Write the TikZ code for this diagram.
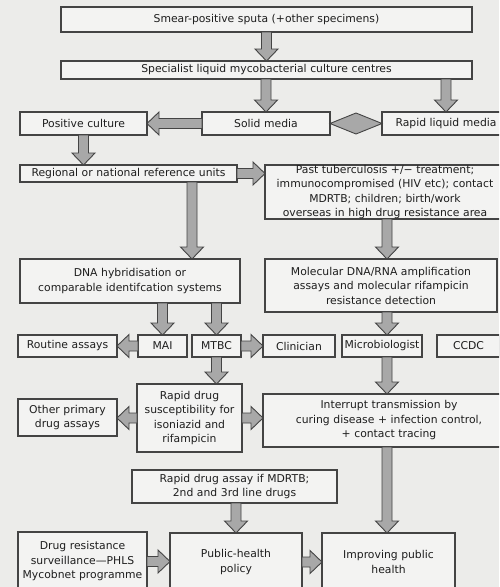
\documentclass[tikz,border=0pt]{standalone}
\usepackage{fontspec}
\setmainfont{DejaVu Sans}
\usetikzlibrary{calc}
\definecolor{bgc}{HTML}{ECECEA}
\definecolor{boxfill}{HTML}{F3F3F2}
\definecolor{edge}{HTML}{444444}
\definecolor{arrfill}{HTML}{A8A8A8}
\definecolor{txt}{HTML}{1E1E1E}
\tikzset{
  box/.style={draw=edge, fill=boxfill, line width=1.2pt, inner sep=0pt, outer sep=0pt,
    align=center, text=txt, font=\fontsize{10.8}{14.5}\selectfont},
  fatarr/.style={draw=edge, fill=arrfill, line width=0.9pt, line join=miter},
}
\newcommand\bx[6]{%
  \pgfmathsetmacro\bw{#4-#2}\pgfmathsetmacro\bh{#5-#3}%
  \node[box,anchor=north west,minimum width=\bw pt,minimum height=\bh pt,text width=\bw pt] (#1) at (#2,#3) {#6};}
\newcommand\fat[2]{%
  \path let \p1=(#1), \p2=(#2) in \pgfextra{%
    \pgfmathsetmacro\fatang{atan2(\y2-\y1,\x2-\x1)}%
    \pgfmathsetmacro\fatlen{veclen(\x2-\x1,\y2-\y1)}%
    \xdef\fatA{\fatang}\xdef\fatL{\fatlen}\xdef\fatX{\x1}\xdef\fatY{\y1}};
  \begin{scope}[shift={(\fatX,\fatY)},rotate=\fatA]
    \filldraw[fatarr] (0pt,-5pt) -- ({\fatL pt-12pt},-5pt) -- ({\fatL pt-12pt},-11.5pt)
      -- (\fatL pt,0pt) -- ({\fatL pt-12pt},11.5pt) -- ({\fatL pt-12pt},5pt) -- (0pt,5pt) -- cycle;
  \end{scope}}
\begin{document}
\begin{tikzpicture}[x=1pt,y=-1pt]
\useasboundingbox (0,0) rectangle (499,587);
\fill[bgc] (0,0) rectangle (499,587);
\clip (0,0) rectangle (499,587);
% boxes
\bx{smear}{61}{7}{472}{32}{Smear-positive sputa (+other specimens)}
\bx{spec}{61}{61}{472}{79}{Specialist liquid mycobacterial culture centres}
\bx{pos}{20}{112}{147}{135}{Positive culture}
\bx{solid}{202}{112}{330}{135}{Solid media}
\bx{rapidliq}{382}{112}{510}{135}{Rapid liquid media}
\bx{regional}{20}{165}{237}{182}{Regional or national reference units}
\bx{past}{265}{165}{505}{219}{Past tuberculosis +/− treatment;\\immunocompromised (HIV etc); contact\\MDRTB; children; birth/work\\overseas in high drug resistance area}
\bx{dna}{20}{259}{240}{303}{DNA hybridisation or\\comparable identifcation systems}
\bx{molec}{265}{259}{497}{312}{Molecular DNA/RNA amplification\\assays and molecular rifampicin\\resistance detection}
\bx{routine}{18}{335}{117}{357}{Routine assays}
\bx{mai}{138}{335}{187}{357}{MAI}
\bx{mtbc}{192}{335}{241}{357}{MTBC}
\bx{clin}{263}{335}{335}{357}{Clinician}
\bx{micro}{342}{335}{422}{357}{Microbiologist}
\bx{ccdc}{437}{335}{500}{357}{CCDC}
\bx{other}{18}{399}{117}{436}{Other primary\\drug assays}
\bx{rapiddrug}{137}{384}{242}{452}{Rapid drug\\susceptibility for\\isoniazid and\\rifampicin}
\bx{interrupt}{263}{394}{515}{447}{Interrupt transmission by\\curing disease + infection control,\\+ contact tracing}
\bx{rapidassay}{132}{470}{337}{503}{Rapid drug assay if MDRTB;\\2nd and 3rd line drugs}
\bx{drugres}{18}{532}{147}{591}{Drug resistance\\surveillance—PHLS\\Mycobnet programme}
\bx{policy}{170}{533}{302}{591}{Public-health\\policy}
\bx{improving}{322}{533}{455}{591}{Improving public\\health}
% helper coordinates
\coordinate (cx192) at (192,0);
\coordinate (cx387) at (387,0);
% connectors
\fat{smear.south}{spec.north}
\fat{solid.north |- spec.south}{solid.north}
\fat{spec.south -| rapidliq.north}{rapidliq.north}
\fat{solid.west}{pos.east}
\path[fatarr] (solid.east) -- ($(solid.east)!0.5!(rapidliq.west)+(0,-10.5)$) -- (rapidliq.west)
  -- ($(solid.east)!0.5!(rapidliq.west)+(0,10.5)$) -- cycle;
\fat{pos.south}{pos.south |- regional.north}
\fat{regional.east}{regional.east -| past.west}
\fat{regional.south -| cx192}{dna.north -| cx192}
\fat{past.south -| cx387}{molec.north -| cx387}
\fat{dna.south -| mai.north}{mai.north}
\fat{dna.south -| mtbc.north}{mtbc.north}
\fat{molec.south -| cx387}{micro.north -| cx387}
\fat{mai.west}{routine.east}
\fat{mtbc.east}{clin.west}
\fat{mtbc.south}{mtbc.south |- rapiddrug.north}
\fat{micro.south -| cx387}{interrupt.north -| cx387}
\fat{rapiddrug.west}{rapiddrug.west -| other.east}
\fat{rapiddrug.east}{rapiddrug.east -| interrupt.west}
\fat{interrupt.south -| cx387}{improving.north -| cx387}
\fat{rapidassay.south -| policy.north}{policy.north}
\fat{drugres.east}{drugres.east -| policy.west}
\fat{policy.east}{improving.west}
\end{tikzpicture}
\end{document}
